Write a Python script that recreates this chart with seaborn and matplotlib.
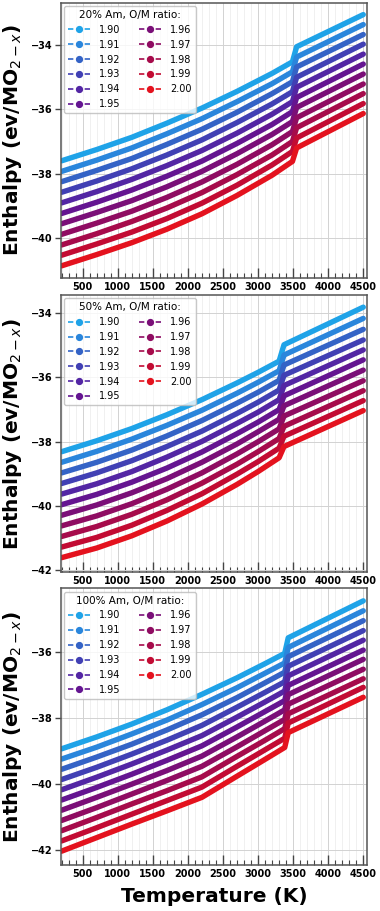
import matplotlib
matplotlib.use("Agg")
import pandas as pd
import matplotlib.pyplot as plt
import seaborn as sns
from matplotlib.lines import Line2D
from matplotlib.ticker import MultipleLocator

# O/M ratios and their colours (blue -> purple -> red)
om_ratios = ["1.90", "1.91", "1.92", "1.93", "1.94", "1.95",
             "1.96", "1.97", "1.98", "1.99", "2.00"]
om_colors = ["#1fa3e8", "#2a86dc", "#3463c6", "#4140b4", "#5326a4", "#641591",
             "#7a0f78", "#8f0c62", "#a60b4b", "#c20b33", "#e4121e"]

# 20% Am  (rows = O/M ratio, cols = temperature)
temps_20 = [200, 700, 1200, 1700, 2200, 2700, 3200, 3490, 3550, 4500]
enthalpy_20 = [
    [-37.60, -37.25, -36.87, -36.43, -35.96, -35.44, -34.88, -34.52, -34.05, -33.05],
    [-37.93, -37.58, -37.20, -36.76, -36.29, -35.76, -35.20, -34.83, -34.37, -33.36],
    [-38.25, -37.90, -37.53, -37.09, -36.62, -36.09, -35.51, -35.14, -34.68, -33.67],
    [-38.58, -38.23, -37.85, -37.42, -36.95, -36.41, -35.83, -35.45, -35.00, -33.97],
    [-38.91, -38.56, -38.18, -37.75, -37.28, -36.74, -36.15, -35.76, -35.31, -34.28],
    [-39.24, -38.89, -38.51, -38.08, -37.61, -37.06, -36.47, -36.07, -35.63, -34.59],
    [-39.56, -39.21, -38.84, -38.41, -37.93, -37.38, -36.78, -36.38, -35.94, -34.90],
    [-39.89, -39.54, -39.17, -38.74, -38.26, -37.71, -37.10, -36.69, -36.26, -35.21],
    [-40.22, -39.87, -39.49, -39.07, -38.59, -38.03, -37.42, -37.00, -36.57, -35.51],
    [-40.54, -40.19, -39.82, -39.40, -38.92, -38.36, -37.73, -37.31, -36.89, -35.82],
    [-40.87, -40.52, -40.15, -39.73, -39.25, -38.68, -38.05, -37.62, -37.20, -36.13],
]

# 50% Am
temps_50 = [200, 700, 1200, 1700, 2200, 2700, 3000, 3300, 3370, 4500]
enthalpy_50 = [
    [-38.31, -37.97, -37.59, -37.16, -36.69, -36.17, -35.84, -35.49, -34.98, -33.81],
    [-38.64, -38.30, -37.92, -37.49, -37.02, -36.49, -36.15, -35.79, -35.30, -34.16],
    [-38.97, -38.64, -38.26, -37.82, -37.34, -36.80, -36.46, -36.09, -35.61, -34.50],
    [-39.30, -38.97, -38.59, -38.15, -37.67, -37.12, -36.77, -36.39, -35.93, -34.83],
    [-39.63, -39.31, -38.93, -38.48, -37.99, -37.43, -37.08, -36.69, -36.25, -35.14],
    [-39.96, -39.64, -39.26, -38.82, -38.32, -37.75, -37.39, -37.00, -36.57, -35.45],
    [-40.29, -39.97, -39.59, -39.15, -38.64, -38.07, -37.69, -37.30, -36.88, -35.77],
    [-40.62, -40.31, -39.93, -39.48, -38.97, -38.38, -38.00, -37.60, -37.20, -36.10],
    [-40.95, -40.64, -40.26, -39.81, -39.29, -38.70, -38.31, -37.90, -37.52, -36.41],
    [-41.28, -40.98, -40.60, -40.14, -39.62, -39.01, -38.62, -38.20, -37.83, -36.72],
    [-41.61, -41.31, -40.93, -40.47, -39.94, -39.33, -38.93, -38.50, -38.15, -37.03],
]

# 100% Am
temps_100 = [200, 700, 1200, 1700, 2200, 2700, 3100, 3380, 3430, 4500]
enthalpy_100 = [
    [-38.94, -38.58, -38.19, -37.76, -37.29, -36.79, -36.36, -36.05, -35.58, -34.46],
    [-39.25, -38.89, -38.49, -38.07, -37.60, -37.09, -36.65, -36.34, -35.87, -34.76],
    [-39.56, -39.19, -38.80, -38.37, -37.91, -37.39, -36.94, -36.62, -36.15, -35.06],
    [-39.87, -39.50, -39.10, -38.68, -38.23, -37.68, -37.23, -36.91, -36.44, -35.36],
    [-40.18, -39.80, -39.40, -38.98, -38.54, -37.98, -37.52, -37.19, -36.73, -35.65],
    [-40.49, -40.11, -39.71, -39.29, -38.85, -38.28, -37.81, -37.48, -37.02, -35.95],
    [-40.80, -40.41, -40.01, -39.60, -39.16, -38.58, -38.10, -37.76, -37.30, -36.23],
    [-41.11, -40.72, -40.31, -39.90, -39.47, -38.88, -38.39, -38.05, -37.59, -36.53],
    [-41.42, -41.02, -40.61, -40.21, -39.79, -39.17, -38.68, -38.33, -37.88, -36.82],
    [-41.73, -41.33, -40.92, -40.51, -40.10, -39.47, -38.97, -38.62, -38.16, -37.08],
    [-42.04, -41.63, -41.22, -40.82, -40.41, -39.77, -39.26, -38.90, -38.45, -37.38],
]

am_labels = ["20%", "50%", "100%"]


def to_long(temps, rows):
    recs = []
    for om, vals in zip(om_ratios, rows):
        for t, h in zip(temps, vals):
            recs.append({"T": t, "H": h, "om": om})
    return pd.DataFrame(recs)


sns.set_style("whitegrid")
plt.rcParams["font.family"] = ["DejaVu Sans"]
plt.rcParams["text.color"] = "black"
plt.rcParams["axes.labelcolor"] = "black"
plt.rcParams["xtick.color"] = "black"
plt.rcParams["ytick.color"] = "black"

fig = plt.figure(figsize=(3.8, 9.11), dpi=100)

panels = [
    (am_labels[0], temps_20, enthalpy_20, (-41.24, -32.68), 0.6952, 0.3018),
    (am_labels[1], temps_50, enthalpy_50, (-42.05, -33.43), 0.3724, 0.3038),
    (am_labels[2], temps_100, enthalpy_100, (-42.46, -34.08), 0.0505, 0.3037),
]

for i, (am, temps, rows, ylim, bottom, height) in enumerate(panels):
    ax = fig.add_axes([0.1597, bottom, 0.806, height])
    df = to_long(temps, rows)
    sns.lineplot(data=df, x="T", y="H", hue="om", palette=om_colors,
                 linewidth=3.9, legend=False, estimator=None, ax=ax,
                 solid_capstyle="round", solid_joinstyle="round")

    ax.set_xlim(185, 4553)
    ax.set_ylim(*ylim)
    ax.xaxis.set_major_locator(MultipleLocator(500))
    ax.xaxis.set_minor_locator(MultipleLocator(100))
    ax.yaxis.set_major_locator(MultipleLocator(2))

    ax.grid(True, which="major", color="#d2d2d2", linewidth=0.7)
    ax.grid(True, which="minor", axis="x", color="#eaeaea", linewidth=0.5)
    ax.set_axisbelow(True)

    ax.tick_params(axis="x", which="major", direction="in", length=7,
                   width=1.0, color="#444444", labelsize=7, pad=3, bottom=True)
    ax.tick_params(axis="x", which="minor", direction="in", length=3.5,
                   width=0.8, color="#444444", bottom=True)
    ax.tick_params(axis="y", which="major", direction="out", length=4,
                   width=1.0, color="#444444", labelsize=7, pad=2, left=True)
    for lab in ax.get_xticklabels() + ax.get_yticklabels():
        lab.set_fontweight("bold")

    for sp in ax.spines.values():
        sp.set_color("#555555")
        sp.set_linewidth(1.1)

    ax.set_ylabel("Enthalpy (ev/MO$_{2-x}$)", fontsize=14.5, fontweight="bold")
    ax.yaxis.set_label_coords(-0.12, 0.5)
    if i == 2:
        ax.set_xlabel("Temperature (K)", fontsize=14.5, fontweight="bold", labelpad=6)
    else:
        ax.set_xlabel("")

    handles = [Line2D([], [], color=c, linestyle=(0, (3.2, 1.8)), marker="o",
                      markersize=4.2, linewidth=1.2) for c in om_colors]
    leg = ax.legend(handles, om_ratios, ncol=2, loc="upper left",
                    title=f"{am} Am, O/M ratio:", fontsize=7,
                    title_fontsize=7.5, handlelength=2.3, handletextpad=0.9,
                    labelspacing=0.5, columnspacing=1.9, borderaxespad=0.35,
                    frameon=True)
    leg.get_frame().set_edgecolor("#bbbbbb")

fig.savefig("out.png", dpi=100)
